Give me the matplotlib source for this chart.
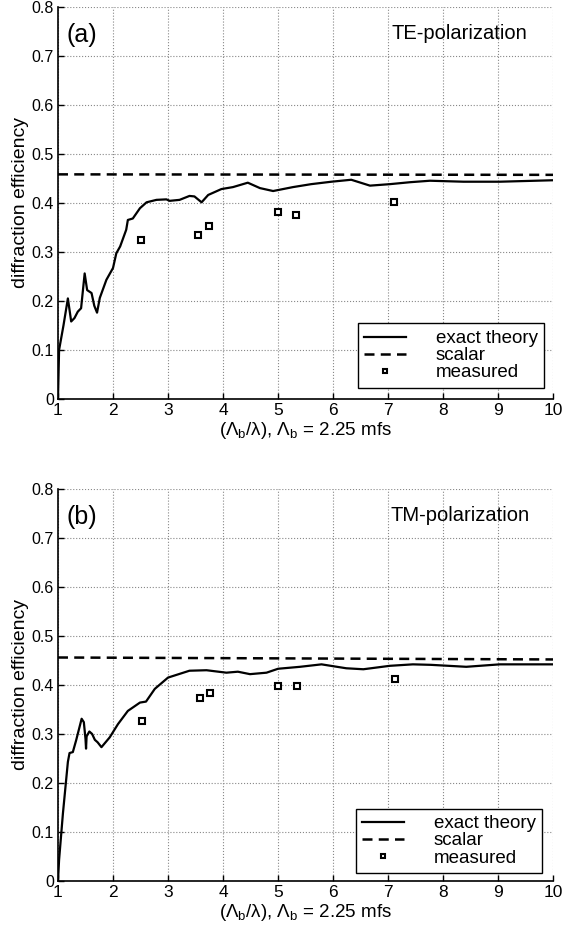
import matplotlib
matplotlib.use("Agg")
import matplotlib.pyplot as plt

plt.rcParams['font.family'] = ['Liberation Sans', 'DejaVu Sans']
plt.rcParams['mathtext.fontset'] = 'custom'
plt.rcParams['mathtext.rm'] = 'Liberation Sans'
plt.rcParams['mathtext.it'] = 'Liberation Sans'

# (a) TE polarization
te_x = [1.0, 1.02, 1.1, 1.18, 1.24, 1.3, 1.36, 1.42, 1.485, 1.53, 1.61, 1.66, 1.71,
        1.76, 1.88, 2.0, 2.06, 2.13, 2.24, 2.27, 2.36, 2.49, 2.61, 2.79, 2.97, 3.03,
        3.21, 3.39, 3.48, 3.61, 3.73, 3.97, 4.18, 4.45, 4.67, 4.91, 5.27, 5.6, 5.97,
        6.33, 6.67, 7.03, 7.4, 7.76, 8.37, 9.03, 10.0]
te_y = [0.0, 0.10, 0.15, 0.205, 0.158, 0.165, 0.178, 0.185, 0.256, 0.222, 0.216, 0.19,
        0.176, 0.206, 0.243, 0.267, 0.297, 0.311, 0.345, 0.365, 0.368, 0.389, 0.401,
        0.406, 0.407, 0.404, 0.406, 0.414, 0.413, 0.401, 0.416, 0.428, 0.432, 0.441,
        0.430, 0.424, 0.432, 0.438, 0.443, 0.447, 0.435, 0.438, 0.442, 0.445, 0.443,
        0.443, 0.446]
te_scalar = [0.458, 0.457]
te_meas_x = [2.5, 3.55, 3.75, 5.0, 5.33, 7.1]
te_meas_y = [0.325, 0.334, 0.352, 0.382, 0.375, 0.401]

# (b) TM polarization
tm_x = [1.0, 1.02, 1.09, 1.18, 1.21, 1.27, 1.33, 1.43, 1.47, 1.50, 1.51, 1.52, 1.57,
        1.62, 1.67, 1.72, 1.79, 1.94, 2.09, 2.27, 2.49, 2.6, 2.76, 3.0, 3.39, 3.70,
        4.06, 4.27, 4.49, 4.79, 5.0, 5.4, 5.79, 6.24, 6.55, 7.03, 7.45, 7.78, 8.42,
        9.03, 10.0]
tm_y = [0.0, 0.043, 0.138, 0.243, 0.261, 0.263, 0.287, 0.331, 0.324, 0.29, 0.27, 0.295,
        0.305, 0.30, 0.288, 0.283, 0.273, 0.293, 0.320, 0.347, 0.364, 0.366, 0.392,
        0.415, 0.429, 0.430, 0.425, 0.427, 0.422, 0.425, 0.433, 0.437, 0.442, 0.434,
        0.432, 0.439, 0.442, 0.441, 0.437, 0.442, 0.442]
tm_scalar = [0.456, 0.452]
tm_meas_x = [2.52, 3.58, 3.77, 5.0, 5.34, 7.12]
tm_meas_y = [0.326, 0.373, 0.384, 0.397, 0.398, 0.413]

scalar_x = [1, 10]
x_ticks = list(range(1, 11))
y_ticks = [0, 0.1, 0.2, 0.3, 0.4, 0.5, 0.6, 0.7, 0.8]

fig = plt.figure(figsize=(5.64, 9.35), dpi=100)
ax_a = fig.add_axes([0.1028, 0.5733, 0.878, 0.4196])
ax_b = fig.add_axes([0.1028, 0.0578, 0.878, 0.4193])

panels = [
    (ax_a, te_x, te_y, te_scalar, te_meas_x, te_meas_y, '(a)', 'TE-polarization', (0.982, 0.028)),
    (ax_b, tm_x, tm_y, tm_scalar, tm_meas_x, tm_meas_y, '(b)', 'TM-polarization', (0.978, 0.02)),
]

for ax, cx, cy, sc, mx, my, tag, pol, anchor in panels:
    ax.plot(cx, cy, color='black', lw=1.6, label='exact theory')
    ax.plot(scalar_x, sc, color='black', lw=1.8, ls=(0, (4, 2.5)), label='scalar')
    ax.plot(mx, my, ls='none', marker='s', ms=5, mfc='white', mec='black', mew=1.5,
            label='measured')

    ax.set_xlim(1, 10)
    ax.set_ylim(0, 0.8)
    ax.set_xticks(x_ticks)
    ax.set_yticks(y_ticks)
    ax.set_yticklabels(['0', '0.1', '0.2', '0.3', '0.4', '0.5', '0.6', '0.7', '0.8'])
    ax.tick_params(direction='in', length=4, width=1, pad=3)
    ax.tick_params(axis='x', labelsize=12.5)
    ax.tick_params(axis='y', labelsize=11.5)
    ax.grid(True, ls=':', color='#888888', lw=0.8)
    for s in ['top', 'right']:
        ax.spines[s].set_visible(False)
    for s in ['left', 'bottom']:
        ax.spines[s].set_linewidth(1.2)

    ax.set_ylabel('diffraction efficiency', fontsize=14, labelpad=2)
    ax.set_xlabel(r'$(\Lambda_{\rm b}/\lambda)$, $\Lambda_{\rm b}$ = 2.25 mfs', fontsize=13.5,
                  labelpad=1)

    ax.text(1.16, 0.742, tag, fontsize=18, va='center', ha='left')
    ax.text(8.3, 0.745, pol, fontsize=14.5, va='center', ha='center')

    leg = ax.legend(loc='lower right', bbox_to_anchor=anchor, borderaxespad=0,
                    fontsize=13.5, fancybox=False, framealpha=1, edgecolor='black',
                    labelspacing=0.0, borderpad=0.35, handlelength=2.2,
                    handletextpad=1.6, markerscale=0.7)
    leg.get_frame().set_linewidth(1.0)

fig.savefig('out.png', dpi=100)
